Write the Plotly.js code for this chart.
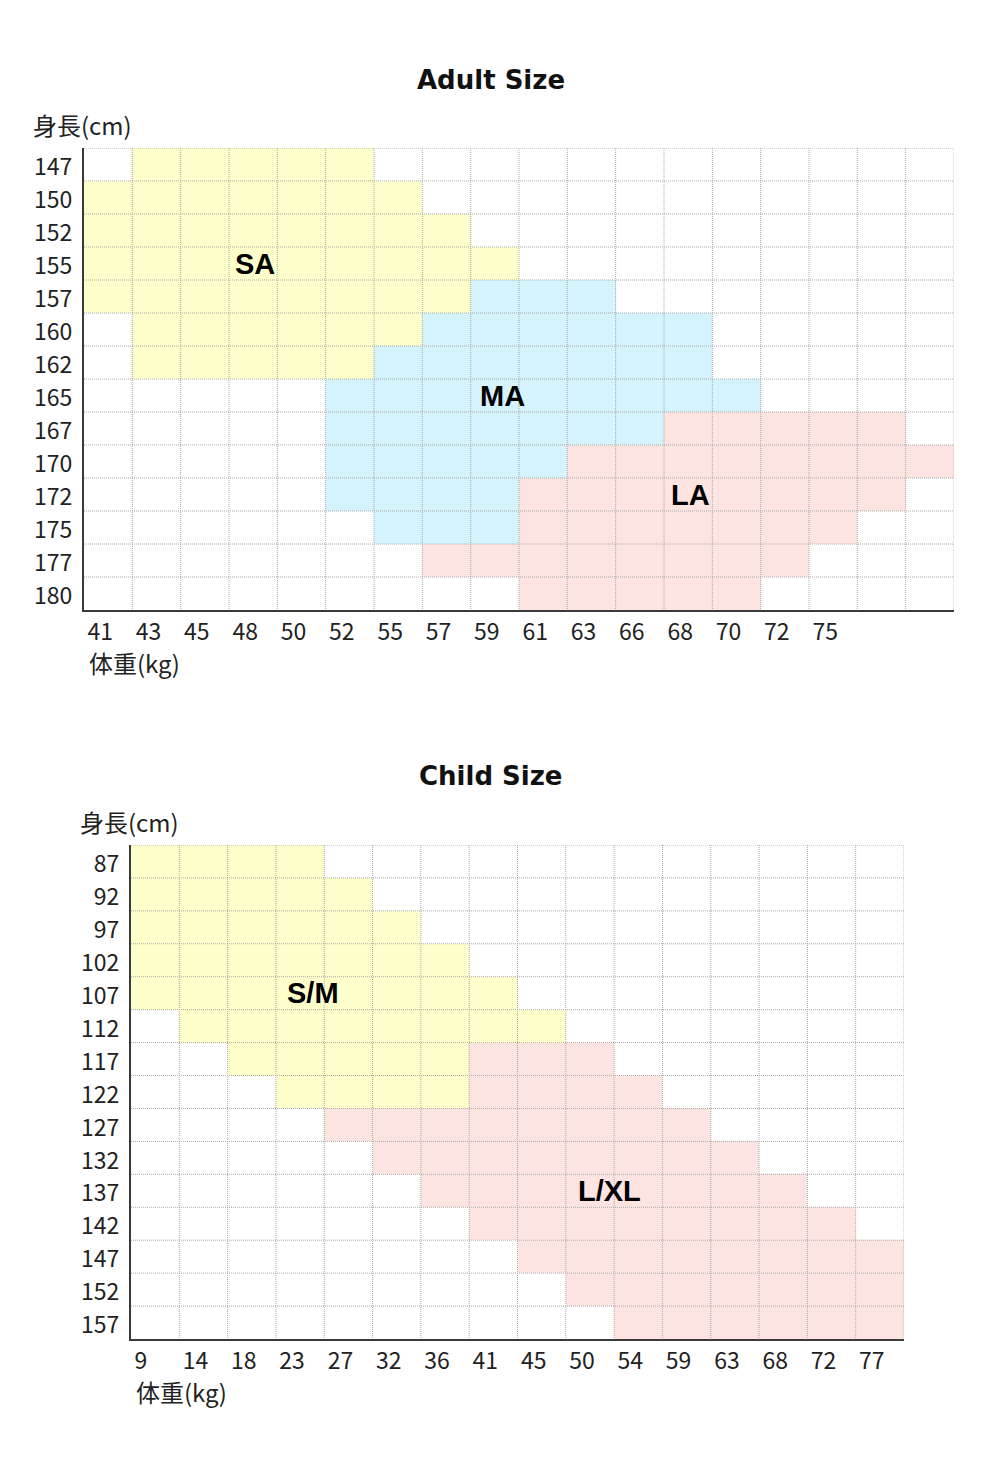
<!DOCTYPE html>
<html>
<head>
<meta charset="utf-8">
<script src="https://cdn.plot.ly/plotly-3.0.1.min.js"></script>
<style>
  html, body { margin: 0; padding: 0; background: #ffffff; }
  #chart { width: 1000px; height: 1474px; }
</style>
</head>
<body>
<div id="chart"></div>
<script>
// ---- Adult size chart ----
// Height rows (top to bottom) and weight columns (left to right; the last two columns carry no label)
const adultHeights = ['147','150','152','155','157','160','162','165','167','170','172','175','177','180'];
const adultWeights = ['41','43','45','48','50','52','55','57','59','61','63','66','68','70','72','75','',''];
// For each height row: [first, last] weight column covered by the size, or null
const adultSA = [[1,5],[0,6],[0,7],[0,8],[0,7],[1,6],[1,5],null,null,null,null,null,null,null];
const adultMA = [null,null,null,null,[8,10],[7,12],[6,12],[5,13],[5,11],[5,9],[5,8],[6,8],null,null];
const adultLA = [null,null,null,null,null,null,null,null,[12,16],[10,17],[9,16],[9,15],[7,14],[9,13]];

// ---- Child size chart ----
const childHeights = ['87','92','97','102','107','112','117','122','127','132','137','142','147','152','157'];
const childWeights = ['9','14','18','23','27','32','36','41','45','50','54','59','63','68','72','77'];
const childSM  = [[0,3],[0,4],[0,5],[0,6],[0,7],[1,8],[2,6],[3,6],null,null,null,null,null,null,null];
const childLXL = [null,null,null,null,null,null,[7,9],[7,10],[4,11],[5,12],[6,13],[7,14],[8,15],[9,15],[10,15]];

// Size codes -> fill colours
const YELLOW = '#ffffcc', BLUE = '#d4f3fd', PINK = '#fde4e1';
const sizeScale = [[0, YELLOW], [0.5, BLUE], [1, PINK]];

const FONT = '"Noto Sans CJK JP", "Noto Sans", sans-serif';
const LABEL_FONT = 'Liberation Sans, Arial, sans-serif';

// Fill a rows x cols matrix with size codes from the [first,last] ranges
function buildZ(nRows, nCols, layers) {
  const z = [];
  for (let r = 0; r < nRows; r++) {
    const row = new Array(nCols).fill(null);
    layers.forEach(([ranges, code]) => {
      const rg = ranges[r];
      if (rg) for (let c = rg[0]; c <= rg[1]; c++) row[c] = code;
    });
    z.push(row);
  }
  return z;
}

// Dotted cell grid drawn over the coloured cells
function gridShapes(xref, yref, nCols, nRows) {
  const s = [];
  const line = { color: '#a8a8a8', width: 1, dash: '1px,1px' };
  for (let c = 1; c <= nCols; c++) {
    s.push({ type: 'line', layer: 'above', xref, yref, x0: c - 0.5, x1: c - 0.5, y0: -0.5, y1: nRows - 0.5, line });
  }
  for (let r = 0; r < nRows; r++) {
    s.push({ type: 'line', layer: 'above', xref, yref, x0: -0.5, x1: nCols - 0.5, y0: r - 0.5, y1: r - 0.5, line });
  }
  return s;
}

// Weight labels sit just right of each column's left edge
function xAxisCfg(labels, domain, anchor) {
  return {
    domain, anchor,
    range: [-0.5, labels.length - 0.5],
    tickmode: 'array',
    tickvals: labels.map((_, i) => i - 0.45),
    ticktext: labels,
    ticklabelposition: 'outside right',
    ticks: '', showgrid: false, zeroline: false,
    showline: true, linecolor: '#3a3a3a', linewidth: 2,
    tickfont: { family: FONT, size: 23, color: '#222' },
    ticklabelstandoff: 0,
    fixedrange: true
  };
}

function yAxisCfg(labels, domain, anchor) {
  return {
    domain, anchor,
    range: [labels.length - 0.5, -0.5],
    tickmode: 'array',
    tickvals: labels.map((_, i) => i + 0.08),
    ticktext: labels,
    ticks: '', showgrid: false, zeroline: false,
    showline: true, linecolor: '#3a3a3a', linewidth: 2,
    tickfont: { family: FONT, size: 23, color: '#222' },
    ticklabelstandoff: 5,
    fixedrange: true
  };
}

const W = 1000, H = 1474;
const px = v => v / W, py = v => 1 - v / H;

const adultZ = buildZ(adultHeights.length, adultWeights.length, [[adultSA, 1], [adultMA, 2], [adultLA, 3]]);
const childZ = buildZ(childHeights.length, childWeights.length, [[childSM, 1], [childLXL, 3]]);

const traces = [
  {
    type: 'heatmap', z: adultZ, xaxis: 'x', yaxis: 'y',
    zmin: 1, zmax: 3, colorscale: sizeScale, showscale: false, hoverinfo: 'skip'
  },
  {
    type: 'heatmap', z: childZ, xaxis: 'x2', yaxis: 'y2',
    zmin: 1, zmax: 3, colorscale: sizeScale, showscale: false, hoverinfo: 'skip'
  }
];

function textNote(text, x, y, opts) {
  return Object.assign({ text, x, y, showarrow: false }, opts);
}

const titleFont = { family: '"DejaVu Sans", sans-serif', size: 26, color: '#111', weight: 'bold' };
const axisNameFont = { family: FONT, size: 24, color: '#222' };
const sizeFont = { family: LABEL_FONT, size: 29, color: '#000', weight: 'bold' };

const annotations = [
  // chart titles
  textNote('<b>Adult Size</b>', px(491), py(80), { xref: 'paper', yref: 'paper', font: titleFont, xanchor: 'center', yanchor: 'middle' }),
  textNote('<b>Child Size</b>', px(490), py(776), { xref: 'paper', yref: 'paper', font: titleFont, xanchor: 'center', yanchor: 'middle' }),
  // axis names
  textNote('身長(cm)', px(31), py(124), { xref: 'paper', yref: 'paper', font: axisNameFont, xanchor: 'left', yanchor: 'middle' }),
  textNote('体重(kg)', px(87), py(662), { xref: 'paper', yref: 'paper', font: axisNameFont, xanchor: 'left', yanchor: 'middle' }),
  textNote('身長(cm)', px(78), py(821), { xref: 'paper', yref: 'paper', font: axisNameFont, xanchor: 'left', yanchor: 'middle' }),
  textNote('体重(kg)', px(134), py(1391), { xref: 'paper', yref: 'paper', font: axisNameFont, xanchor: 'left', yanchor: 'middle' }),
  // size labels
  textNote('SA', 3.04, 3, { xref: 'x', yref: 'y', font: sizeFont }),
  textNote('MA', 8.15, 7, { xref: 'x', yref: 'y', font: sizeFont }),
  textNote('LA', 12.04, 10, { xref: 'x', yref: 'y', font: sizeFont }),
  textNote('S/M', 3.27, 4, { xref: 'x2', yref: 'y2', font: sizeFont }),
  textNote('L/XL', 9.41, 10, { xref: 'x2', yref: 'y2', font: sizeFont })
];

const layout = {
  width: W, height: H,
  margin: { l: 0, r: 0, t: 0, b: 0 },
  paper_bgcolor: '#ffffff', plot_bgcolor: '#ffffff',
  showlegend: false,
  xaxis: xAxisCfg(adultWeights, [px(84), px(954)], 'y'),
  yaxis: yAxisCfg(adultHeights, [py(610), py(148)], 'x'),
  xaxis2: xAxisCfg(childWeights, [px(131), px(904)], 'y2'),
  yaxis2: yAxisCfg(childHeights, [py(1339), py(845)], 'x2'),
  shapes: gridShapes('x', 'y', adultWeights.length, adultHeights.length)
    .concat(gridShapes('x2', 'y2', childWeights.length, childHeights.length)),
  annotations
};

Plotly.newPlot('chart', traces, layout, { staticPlot: true, displayModeBar: false });
</script>
</body>
</html>
